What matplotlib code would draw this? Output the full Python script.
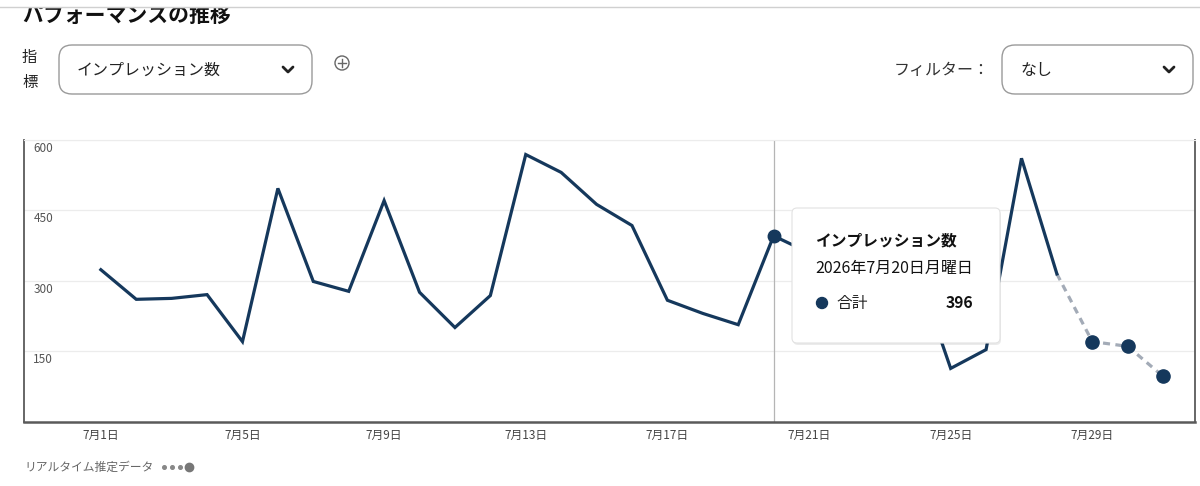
import numpy as np
import matplotlib; matplotlib.use('Agg'); import matplotlib.pyplot as plt
from matplotlib.patches import FancyBboxPatch, Circle, Rectangle

plt.rcParams['font.family'] = ['Noto Sans CJK JP', 'DejaVu Sans']

# --- data ---
days = list(range(1, 32))
impressions = [324, 261, 263, 271, 171, 497, 299, 278, 471, 276, 201, 269, 569, 531,
               463, 418, 259, 231, 207, 396, 360, 330, 300, 333, 114, 154, 561, 315,
               171, 161, 97]
n_confirmed = 28                        # 7/1..7/28 solid, rest = realtime estimate
tick_days = [1, 5, 9, 13, 17, 21, 25, 29]
tick_labels = [f'7月{d}日' for d in tick_days]
y_ticks = [150, 300, 450, 600]
hover_day = 20

NAVY = '#15385c'; EST = '#a3abb7'; GRID = '#ececec'; SPINE = '#5a5a5a'

W, H = 1200, 486
fig = plt.figure(figsize=(W/100, H/100), dpi=100)
ax = fig.add_axes([24/W, 1-422/H, (1195-24)/W, (422-139.5)/H])

d = np.array(days); v = np.array(impressions)
ax.plot(d[:n_confirmed], v[:n_confirmed], color=NAVY, lw=2.3, solid_joinstyle='miter', zorder=3)
ax.plot(d[n_confirmed-1:], v[n_confirmed-1:], color=EST, lw=2.3, ls=(0, (2.2, 1.7)), zorder=2)
ax.plot(d[n_confirmed:], v[n_confirmed:], 'o', color=NAVY, ms=9.5, zorder=4)
hi = days.index(hover_day)
ax.plot(d[hi], v[hi], 'o', color=NAVY, ms=9, zorder=4)
ax.axvline(hover_day, color='#b5b5b5', lw=0.9, zorder=1)

ax.set_xlim(-1.17, 31.9); ax.set_ylim(0, 601)
ax.set_yticks(y_ticks); ax.set_yticklabels([])
ax.grid(axis='y', color=GRID, lw=0.9); ax.set_axisbelow(True)
ax.set_xticks(tick_days); ax.set_xticklabels(tick_labels, fontsize=8.5, color='#444')
ax.tick_params(axis='x', length=0, pad=5); ax.tick_params(axis='y', length=0)
for yt in y_ticks:
    ax.text(0.008, yt - 18, str(yt), transform=ax.get_yaxis_transform(),
            fontsize=8.5, color='#555', ha='left', va='center')
for s in ('left', 'bottom', 'right'):
    ax.spines[s].set_color(SPINE)
ax.spines['left'].set_linewidth(1.3); ax.spines['right'].set_linewidth(1.3)
ax.spines['bottom'].set_linewidth(1.8)
ax.spines['top'].set_color(GRID)

# --- overlay in pixel coordinates for the UI chrome ---
ov = fig.add_axes([0, 0, 1, 1], zorder=10)
ov.set_xlim(0, W); ov.set_ylim(H, 0); ov.axis('off')

ov.text(22, 15, 'パフォーマンスの推移', fontsize=15, fontweight='bold', va='center', ha='left', color='#111')
ov.add_patch(Rectangle((0, 0), W, 7, color='white', zorder=5))
ov.plot([0, W], [7, 7], color='#d0d0d0', lw=1, zorder=6)

ov.text(22, 57, '指', fontsize=11, va='center', color='#222')
ov.text(22, 82, '標', fontsize=11, va='center', color='#222')

def dropdown(x0, x1, label):
    ov.add_patch(FancyBboxPatch((x0, 45), x1-x0, 49, boxstyle='round,pad=0,rounding_size=13',
                                fc='white', ec='#9a9a9a', lw=1))
    ov.text(x0+18, 70, label, fontsize=11.5, va='center', ha='left', color='#222')
    cx = x1 - 24
    ov.plot([cx-5, cx, cx+5], [67, 72, 67], color='#222', lw=2, solid_capstyle='round')

dropdown(59, 312, 'インプレッション数')
dropdown(1002, 1193, 'なし')
ov.text(990, 70, 'フィルター：', fontsize=11.5, va='center', ha='right', color='#333')
ov.add_patch(Circle((342, 63), 7, fc='none', ec='#666', lw=1))
ov.plot([338, 346], [63, 63], color='#666', lw=1); ov.plot([342, 342], [59, 67], color='#666', lw=1)

# tooltip
ov.add_patch(FancyBboxPatch((793, 210), 208, 135, boxstyle='round,pad=0,rounding_size=5',
                            fc='#000000', ec='none', alpha=0.08))
ov.add_patch(FancyBboxPatch((792, 208), 208, 135, boxstyle='round,pad=0,rounding_size=5',
                            fc='white', ec='#e2e2e2', lw=0.8))
ov.text(815, 240, 'インプレッション数', fontsize=11.3, fontweight='bold', va='center', color='#111')
ov.text(815, 268, f'2026年7月{hover_day}日月曜日', fontsize=11.5, va='center', color='#111')
ov.add_patch(Circle((822, 303), 5.5, color=NAVY))
ov.text(836, 303, '合計', fontsize=11.3, va='center', color='#222')
ov.text(973, 303, str(impressions[hi]), fontsize=11.3, fontweight='bold', va='center', ha='right', color='#111')

# legend
ov.text(24, 467, 'リアルタイム推定データ', fontsize=8.5, va='center', color='#666')
ov.plot([164, 172, 180], [467]*3, 'o', color='#888', ms=2.6)
ov.plot([189], [467], 'o', color='#777', ms=6)

fig.savefig('out.png', dpi=100)
